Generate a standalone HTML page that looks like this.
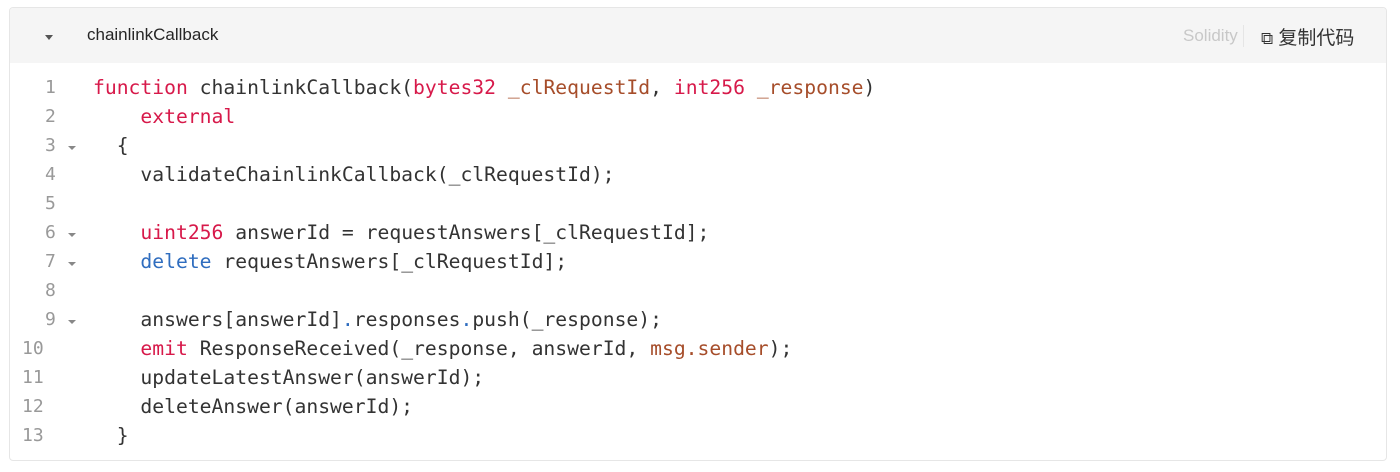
<!DOCTYPE html>
<html><head><meta charset="utf-8"><style>
body{margin:0;width:1400px;height:472px;background:#fff;position:relative;overflow:hidden;font-family:"Liberation Sans","Noto Sans CJK SC",sans-serif}
.box{position:absolute;left:9px;top:7px;width:1378px;height:454px;border:1px solid #e6e6e6;border-radius:4px;box-sizing:border-box;overflow:hidden}
.hd{position:absolute;left:0;top:0;right:0;height:55px;background:#f5f5f5}
.t{position:absolute;left:77px;top:17px;font-size:17px;color:#262626}
.tri{position:absolute;left:35px;top:27px;width:0;height:0;border-left:4.5px solid transparent;border-right:4.5px solid transparent;border-top:5px solid #555}
.sol{position:absolute;left:1173px;top:18px;font-size:17px;color:#c8c8c8}
.sep{position:absolute;left:1233px;top:17px;width:1px;height:22px;background:#e5e5e5}
.cp{position:absolute;left:1251px;top:15px;font-size:19px;color:#333}
.ln{position:absolute;font-family:"DejaVu Sans Mono","Liberation Mono",monospace;font-size:18px;color:#999}
.f{position:absolute;width:0;height:0;border-left:4px solid transparent;border-right:4px solid transparent;border-top:4.5px solid #888}
.c{position:absolute;left:93px;font-family:"DejaVu Sans Mono","Liberation Mono",monospace;font-size:19.7px;color:#333;white-space:pre;line-height:24px}
.k{color:#d7194a}.v{color:#a64d2a}.b{color:#2f6dbf}
</style></head><body>
<div class="box"><div class="hd"><div class="tri"></div><div class="t">chainlinkCallback</div><div class="sol">Solidity</div><div class="sep"></div><div class="cp"><span style="font-size:17px">⧉</span> 复制代码</div></div></div>

<div class="ln" style="left:45px;top:77px">1</div>
<div class="ln" style="left:45px;top:106px">2</div>
<div class="ln" style="left:45px;top:135px">3</div><div class="f" style="left:68px;top:146px"></div>
<div class="ln" style="left:45px;top:164px">4</div>
<div class="ln" style="left:45px;top:193px">5</div>
<div class="ln" style="left:45px;top:222px">6</div><div class="f" style="left:68px;top:233px"></div>
<div class="ln" style="left:45px;top:251px">7</div><div class="f" style="left:68px;top:262px"></div>
<div class="ln" style="left:45px;top:280px">8</div>
<div class="ln" style="left:45px;top:309px">9</div><div class="f" style="left:68px;top:320px"></div>
<div class="ln" style="left:22px;top:338px">10</div>
<div class="ln" style="left:22px;top:367px">11</div>
<div class="ln" style="left:22px;top:396px">12</div>
<div class="ln" style="left:22px;top:425px">13</div>

<div class="c" style="top:76px"><span class="k">function</span> chainlinkCallback(<span class="k">bytes32</span> <span class="v">_clRequestId</span>, <span class="k">int256</span> <span class="v">_response</span>)</div>
<div class="c" style="top:105px">    <span class="k">external</span></div>
<div class="c" style="top:134px">  {</div>
<div class="c" style="top:163px">    validateChainlinkCallback(_clRequestId);</div>
<div class="c" style="top:221px">    <span class="k">uint256</span> answerId = requestAnswers[_clRequestId];</div>
<div class="c" style="top:250px">    <span class="b">delete</span> requestAnswers[_clRequestId];</div>
<div class="c" style="top:308px">    answers[answerId]<span class="b">.</span>responses<span class="b">.</span>push(_response);</div>
<div class="c" style="top:337px">    <span class="k">emit</span> ResponseReceived(_response, answerId, <span class="v">msg.sender</span>);</div>
<div class="c" style="top:366px">    updateLatestAnswer(answerId);</div>
<div class="c" style="top:395px">    deleteAnswer(answerId);</div>
<div class="c" style="top:424px">  }</div>
</body></html>
